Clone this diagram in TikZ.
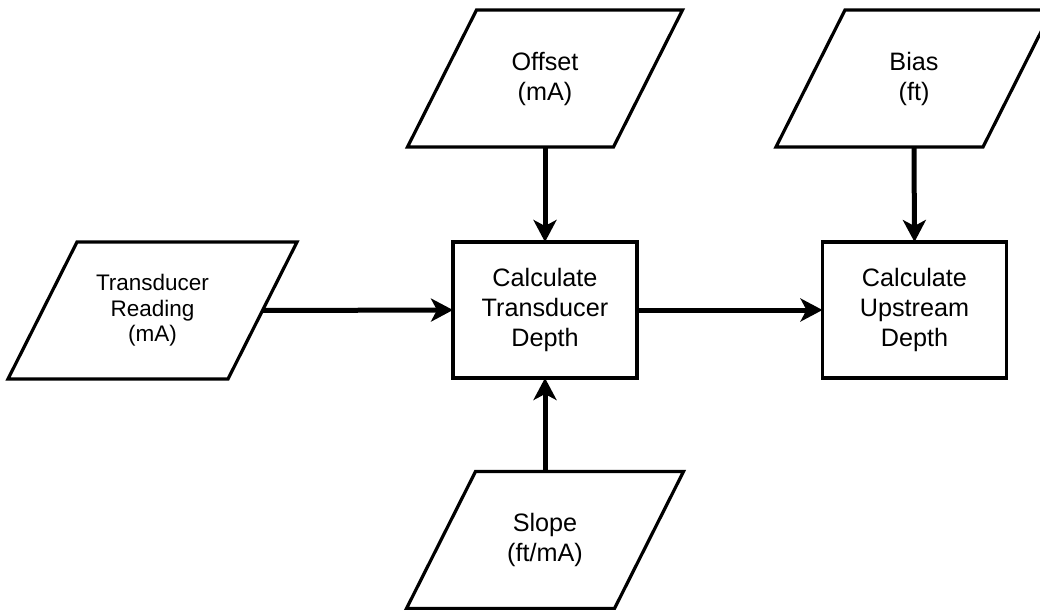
\documentclass[tikz,border=0pt]{standalone}
\usepackage{fontspec}
\setmainfont{Liberation Sans}
\usetikzlibrary{arrows.meta}

\begin{document}
\begin{tikzpicture}[
    x=0.5pt, y=-0.5pt,
    txt/.style={align=center, inner sep=0pt, outer sep=0pt,
      font=\fontsize{12.6}{15}\selectfont},
    io/.style={txt, minimum width=#1, minimum height=68.5pt},
    proc/.style={txt, draw, line width=1.6pt, minimum width=92pt, minimum height=68pt},
    border/.style={line width=1.6pt, line join=miter},
    flow/.style={line width=2.5pt, -{Stealth[length=11pt,width=11.5pt,inset=3pt]}}
    ]
    \useasboundingbox (0,0) rectangle (1040,610);
    % inputs
    \node[io=103pt] (offset) at (545,78.5) {Offset\\(mA)};
    \node[io=103.5pt] (bias) at (914,78.5) {Bias\\(ft)};
    \node[io=110pt, font=\fontsize{11.25}{12.75}\selectfont] (reading) at (152.5,310.5) {Transducer\\Reading\\(mA)};
    \node[io=104pt] (slope) at (545,540) {Slope\\(ft/mA)};
    % processes
    \node[proc] (depth) at (545,310) {Calculate\\Transducer\\Depth};
    \node[proc] (upstream) at (914.5,310) {Calculate\\Upstream\\Depth};
    % slanted outlines of the inputs
    \foreach \n in {offset,bias,reading,slope}
      \draw[border] ([xshift=17.25pt]\n.north west) -- ([xshift=17.25pt]\n.north east)
        -- ([xshift=-17.25pt]\n.south east) -- ([xshift=-17.25pt]\n.south west) -- cycle;
    % flows
    \draw[flow] (reading.east) -- (depth.west);
    \draw[flow] (offset.south) -- (depth.north);
    \draw[flow] (slope.north) -- (depth.south);
    \draw[flow] (depth.east) -- (upstream.west);
    \draw[flow] (bias.south) -- (upstream.north);
  \end{tikzpicture}
\end{document}
